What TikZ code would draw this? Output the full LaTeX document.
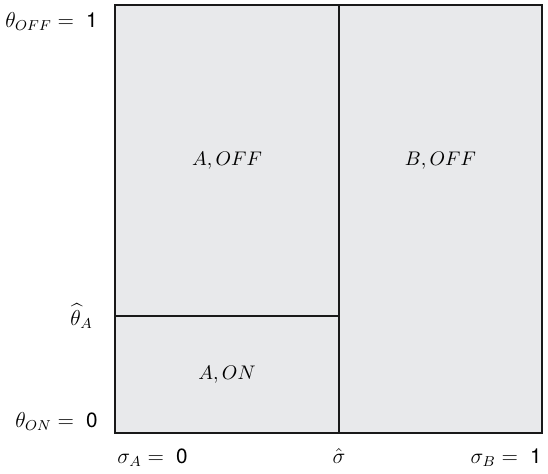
\documentclass[tikz,border=0pt]{standalone}
\usepackage{amsmath,amssymb}
\usepackage{fontspec}
\newfontfamily\helv{TeX Gyre Heros}
\usepackage{xcolor}
\usetikzlibrary{positioning,calc}
\definecolor{regiongray}{RGB}{232,233,235}
\newcommand{\hnum}[1]{\;\mbox{\helv #1}}

\begin{document}
\begin{tikzpicture}[x=0.556pt,y=-0.556pt,font=\normalsize,
  region/.style={inner sep=0pt,font=\fontsize{11}{13}\selectfont},
  ylab/.style={anchor=base east,inner sep=0pt,font=\fontsize{11.5}{14}\selectfont},
  xlab/.style={inner sep=0pt,font=\fontsize{11.5}{14}\selectfont},
  frame/.style={draw=black!90,line width=1.1pt},
  split/.style={draw=black!90,line width=0.6pt}]
  \useasboundingbox (0,0) rectangle (548,473);
  \coordinate (sw) at (115,433);
  \coordinate (ne) at (542,5);
  \coordinate (sigbot) at (339,433);
  \coordinate (sigtop) at (339,5);
  \coordinate (thleft) at (115,316);
  \coordinate (thmid) at (339,316);
  \fill[regiongray] (sw) rectangle (ne);
  \draw[split] (sigbot) -- (sigtop);
  \draw[split] (thleft) -- (thmid);
  \draw[frame] (sw) rectangle (ne);
  % regions
  \node[region] (aoff) at ($(thleft)!0.5!(sigtop)$) {$A,OFF$};
  \node[region] (boff) at ($(sigtop)!0.5!(ne |- thmid)$) {$B,OFF$};
  \node[region] (aon) at ($(thleft)!0.5!(sigbot)$) {$A,ON$};
  % axis labels
  \node[ylab] (thoff) at (98,27) {$\theta_{OFF} = \hnum{1}$};
  \node[ylab] (thhat) at (93,325) {$\widehat{\theta}_A$};
  \node[ylab] (thon) at (98,427) {$\theta_{ON} = \hnum{0}$};
  \node[xlab,anchor=base west] (siga) at (117,463) {$\sigma_A = \hnum{0}$};
  \node[xlab,anchor=base] (sighat) at (339,463) {$\hat{\sigma}$};
  \node[xlab,anchor=base east] (sigb) at (542,463) {$\sigma_B = \hnum{1}$};
\end{tikzpicture}
\end{document}
